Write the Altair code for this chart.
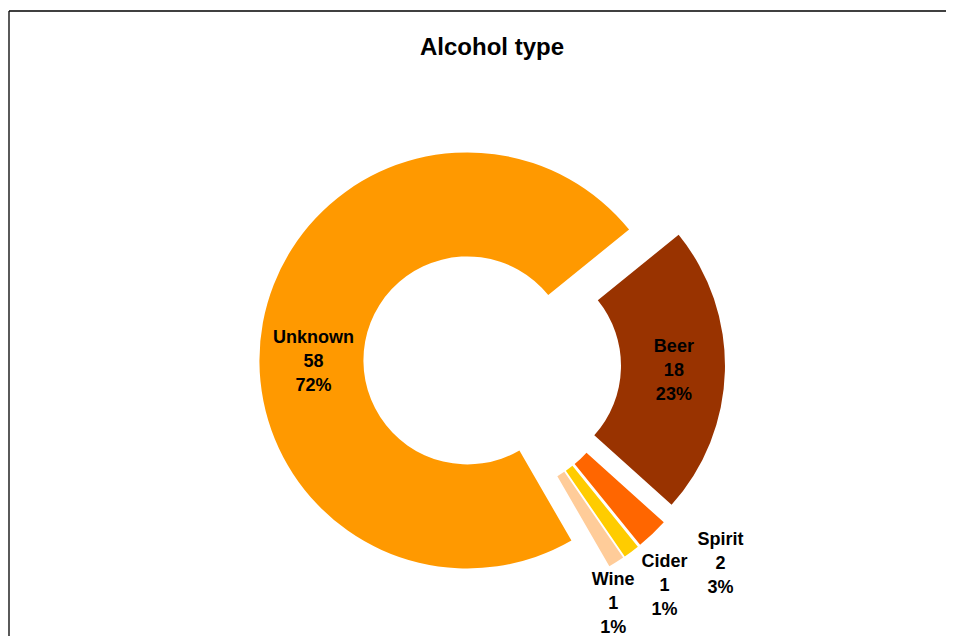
import altair as alt
import pandas as pd

# ---- data ----
categories = ["Unknown", "Beer", "Spirit", "Cider", "Wine"]
counts = [58, 18, 2, 1, 1]
percent_labels = [72, 23, 3, 1, 1]

# ---- style ----
colors = ["#FF9900", "#993300", "#FF6600", "#FFCC00", "#FFCC99"]
START_DEG = 150          # where the first slice starts (clockwise from 12 o'clock)
CX, CY = 484, 357        # pie centre inside the chart (px)
EXPLODE = 25             # slice explosion distance (px)
R_OUT, R_IN = 208, 104   # outer / inner radius
label_radius = [154, 157, 278, 255, 243]
label_nudge_deg = [-11, 0.6, -6, -1.4, 5.9]
FONT = "Liberation Sans"
LINE_H = 24

W, H = 938, 628

df = pd.DataFrame({
    "category": categories,
    "count": counts,
    "pct": percent_labels,
    "order": list(range(len(categories))),
    "lr": label_radius,
    "ln": label_nudge_deg,
})

start = f"({START_DEG} * PI / 180)"

base = (
    alt.Chart(df)
    .transform_joinaggregate(total="sum(count)")
    .transform_window(cum="sum(count)", sort=[alt.SortField("order")], frame=[None, 0])
    .transform_calculate(a0=f"{start} + 2 * PI * (datum.cum - datum.count) / datum.total")
    .transform_calculate(a1=f"{start} + 2 * PI * datum.cum / datum.total")
    .transform_calculate(mid="(datum.a0 + datum.a1) / 2")
    .transform_calculate(cx=f"{CX} + {EXPLODE} * sin(datum.mid)")
    .transform_calculate(cy=f"{CY} - {EXPLODE} * cos(datum.mid)")
)

arcs = base.mark_arc(radius=R_OUT, radius2=R_IN).encode(
    theta=alt.Theta("a0:Q", scale=None, stack=None),
    theta2="a1:Q",
    x=alt.X("cx:Q", scale=None, axis=None),
    y=alt.Y("cy:Q", scale=None, axis=None),
    color=alt.Color("category:N", scale=alt.Scale(domain=categories, range=colors), legend=None),
)

labels = (
    base.transform_calculate(lang="datum.mid + datum.ln * PI / 180")
    .transform_calculate(lx="datum.cx + datum.lr * sin(datum.lang)")
    .transform_calculate(ly="datum.cy - datum.lr * cos(datum.lang)")
    .transform_calculate(label="datum.category + '\\n' + datum.count + '\\n' + datum.pct + '%'")
    .mark_text(font=FONT, fontWeight="bold", fontSize=18, lineBreak="\n", lineHeight=LINE_H,
               align="center", baseline="middle", color="black", dy=-LINE_H)
    .encode(
        x=alt.X("lx:Q", scale=None, axis=None),
        y=alt.Y("ly:Q", scale=None, axis=None),
        text="label:N",
    )
)

frame_src = alt.Chart(alt.Data(values=[{"k": 1}]))
left_rule = frame_src.mark_rule(color="black", strokeWidth=1.3).encode(
    x=alt.value(1), y=alt.value(3), y2=alt.value(H)
)
top_rule = frame_src.mark_rule(color="black", strokeWidth=1.5).encode(
    x=alt.value(1), x2=alt.value(W), y=alt.value(3)
)

chart = (
    alt.layer(left_rule, top_rule, arcs, labels)
    .properties(
        width=W,
        height=H,
        padding=0,
        autosize="none",
        title=alt.TitleParams(
            "Alcohol type", font=FONT, fontSize=24, fontWeight="bold", color="black",
            anchor="middle", frame="group", offset=-47, baseline="alphabetic", dx=15, dy=24,
        ),
    )
    .configure_view(strokeWidth=0)
)

chart.save("out.html", embed_options={"renderer": "svg", "actions": False})
